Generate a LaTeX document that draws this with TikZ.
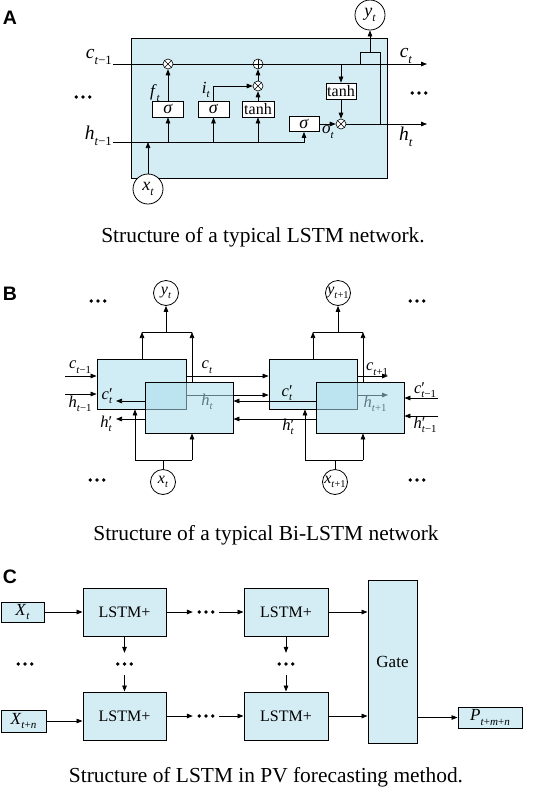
\documentclass[tikz,border=0pt]{standalone}
\usepackage{fontspec}
\setmainfont{Liberation Serif}
\newfontfamily\headfont{Liberation Sans}
\usetikzlibrary{arrows.meta}
\definecolor{cellL}{RGB}{212,237,245}
\definecolor{cellF}{RGB}{170,220,236}
\makeatletter
\newcommand\subfnt{\fontsize{\strip@pt\dimexpr\f@size pt*65/100\relax}{0}\selectfont}
\makeatother
\newcommand\lv[2]{\textit{#1}\raisebox{-0.28em}{\subfnt\textit{#2}}}
\newcommand\lvp[2]{\textit{#1}\rlap{′}\raisebox{-0.28em}{\subfnt\textit{#2}}}
\begin{document}
\begin{tikzpicture}[x=1pt,y=-1pt,
  arr/.style={-{Triangle[length=6pt,width=4.6pt]}, line width=0.75pt},
  ln/.style={line width=0.75pt},
  acell/.style={draw, line width=0.9pt, fill=cellL, inner sep=0pt},
  bcell/.style={draw, line width=0.9pt, fill=cellF, fill opacity=0.55, text opacity=1, inner sep=0pt, minimum width=88pt, minimum height=50pt},
  ccell/.style={draw, line width=1pt, fill=cellL, inner sep=0pt, font=\fontsize{16}{16}\selectfont},
  gbox/.style={draw, line width=0.8pt, fill=white, inner sep=0pt, minimum height=16pt, font=\fontsize{16}{16}\selectfont},
  sig/.style={gbox, font=\fontsize{18}{18}\selectfont},
  opx/.style={circle, draw, line width=0.6pt, fill=white, minimum size=10pt, inner sep=0pt,
    path picture={\draw[line width=0.5pt] (path picture bounding box.north west) -- (path picture bounding box.south east) (path picture bounding box.north east) -- (path picture bounding box.south west);}},
  opp/.style={circle, draw, line width=0.6pt, fill=white, minimum size=10pt, inner sep=0pt,
    path picture={\draw[line width=0.5pt] (path picture bounding box.north) -- (path picture bounding box.south) (path picture bounding box.east) -- (path picture bounding box.west);}},
  circA/.style={circle, draw, line width=0.8pt, fill=white, minimum size=30pt, inner sep=0pt, font=\fontsize{18}{18}\selectfont},
  circB/.style={circle, draw, line width=0.8pt, fill=white, minimum size=25pt, inner sep=0pt, font=\fontsize{16}{16}\selectfont},
  labA/.style={inner sep=0pt, font=\fontsize{19.5}{19.5}\selectfont},
  labS/.style={inner sep=0pt, font=\fontsize{17}{17}\selectfont},
  labB/.style={inner sep=0pt, font=\fontsize{16.5}{16.5}\selectfont},
  dotsn/.style={minimum width=20pt, minimum height=6pt, inner sep=0pt,
    path picture={\fill (path picture bounding box.center) circle (1.9pt);
      \fill ([xshift=6.8pt]path picture bounding box.center) circle (1.9pt);
      \fill ([xshift=-6.8pt]path picture bounding box.center) circle (1.9pt);}},
  head/.style={inner sep=0pt, font=\headfont\bfseries\fontsize{19.5}{19.5}\selectfont},
  capt/.style={inner sep=0pt, font=\fontsize{21.4}{21.4}\selectfont}
]
\useasboundingbox (0,0) rectangle (533,793);

%%%%%%%%%%%%%%%% Part A
\node[head] (hA) at (10,18) {A};
\node[acell, minimum width=256pt, minimum height=140pt] (Abox) at (259,108) {};
\node[opx] (m1) at (168,64) {};
\node[opp] (ad) at (258,64) {};
\node[opx] (m2) at (258,86) {};
\node[opx] (m3) at (341,124) {};
\node[sig, minimum width=31pt] (s1) at (168,109) {\textit{σ}};
\node[sig, minimum width=31pt] (s2) at (213.5,109) {\textit{σ}};
\node[gbox, minimum width=32pt] (t1) at (258,109) {tanh};
\node[sig, minimum width=30pt, minimum height=15pt] (s3) at (304,124) {\textit{σ}};
\node[gbox, minimum width=30pt] (t2) at (341,91) {tanh};
\node[circA] (yA) at (370,15) {\lv{y}{t}};
\node[circA] (xA) at (148,189) {\lv{x}{t}};
\coordinate (Acin) at (113,64);
\coordinate (Acout) at (427,64);
\coordinate (Ahin) at (113,142);
\coordinate (Ahout) at (427,124);
\coordinate (Aj1) at (360,64);
\coordinate (Ajl) at (360,52);
\coordinate (Ajr) at (380,52);
\coordinate (Aj2) at (380,124);
\draw[arr] (Acin) -- (m1) -- (ad) -- (Acout);
\draw[arr] (Ahin) -| (s3);
\draw[arr] (s1 |- Ahin) -- (s1);
\draw[arr] (s2 |- Ahin) -- (s2);
\draw[arr] (t1 |- Ahin) -- (t1);
\draw[arr] (xA) -- (xA |- Ahin);
\draw[arr] (s1) -- (m1);
\draw[arr] (s2) |- (m2);
\draw[arr] (t1) -- (m2);
\draw[arr] (m2) -- (ad);
\draw[arr] (t2 |- Acin) -- (t2);
\draw[arr] (t2) -- (m3);
\draw[arr] (s3) -- (m3);
\draw[arr] (m3) -- (Ahout);
\draw[ln] (Aj1) -- (Ajl) -- (Ajr) -- (Aj2);
\draw[arr] (yA |- Ajl) -- (yA);
\node[labA, anchor=east] (lc1) at (112,57) {\lv{c}{t\textup{−1}}};
\node[labA, anchor=east] (lh1) at (112,136) {\lv{h}{t\textup{−1}}};
\node[labA] (lct) at (406,56) {\lv{c}{t}};
\node[labA] (lht) at (406,137) {\lv{h}{t}};
\node[labS] (lft) at (155,93) {\lv{f}{t}};
\node[labS] (lit) at (206,90) {\lv{i}{t}};
\node[labS] (lot) at (328,132) {\lv{o}{t}};
\node[dotsn] (dA1) at (83,97) {};
\node[dotsn] (dA2) at (419,93) {};
\node[capt] (capA) at (263,237) {Structure of a typical LSTM network.};

%%%%%%%%%%%%%%%% Part B
\node[head] (hB) at (10,294) {B};
\node[bcell, minimum width=89pt] (b1) at (141.5,384) {};
\node[bcell] (b3) at (313,384) {};
\coordinate (Bh) at (0,395);
\coordinate (Bhout) at (388,395);
\draw[arr] (b1.east |- Bh) -- (b3.west |- Bh);
\draw[arr] (b3.east |- Bh) -- (Bhout);
\node[labB] (lhtB) at (207,402) {\lv{h}{t}};
\node[labB] (lht1B) at (375,404) {\lv{h}{t\textup{+1}}};
\node[bcell, minimum height=51pt] (b2) at (189,407.5) {};
\node[bcell, minimum height=51pt] (b4) at (360,407.5) {};
\node[circB] (yB1) at (166,293) {\lv{y}{t}};
\node[circB] (yB2) at (338,293) {\lv{y}{t\textup{+1}}};
\node[circB] (xB1) at (163,482) {\lv{x}{t}};
\node[circB] (xB2) at (335,482) {\lv{x}{t\textup{+1}}};
\coordinate (Bcin) at (65,376);
\coordinate (Bhin) at (65,394);
\coordinate (Bcpo) at (116,401);
\coordinate (Bhpo) at (116,419);
\coordinate (Bc) at (0,376);
\coordinate (Bcp) at (0,401);
\coordinate (Bhp) at (0,419);
\coordinate (Bcout) at (388,376);
\coordinate (Bcpin) at (438,398);
\coordinate (Bhpin) at (438,416);
\draw[arr] (Bcin) -- (Bcin -| b1.west);
\draw[arr] (Bhin) -- (Bhin -| b1.west);
\draw[arr] (Bcpo -| b2.west) -- (Bcpo);
\draw[arr] (Bhpo -| b2.west) -- (Bhpo);
\draw[arr] (b1.east |- Bc) -- (b3.west |- Bc);
\draw[arr] (b4.west |- Bcp) -- (b2.east |- Bcp);
\draw[arr] (b4.west |- Bhp) -- (b2.east |- Bhp);
\draw[arr] (b3.east |- Bc) -- (Bcout);
\draw[arr] (Bcpin) -- (Bcpin -| b4.east);
\draw[arr] (Bhpin) -- (Bhpin -| b4.east);
% tops
\coordinate (Bt1) at (142,332);
\coordinate (Bt2) at (192,332);
\coordinate (Bt3) at (313,332);
\coordinate (Bt4) at (363,332);
\draw[arr] (Bt1 |- b1.north) -- (Bt1);
\draw[arr] (Bt2 |- b2.north) -- (Bt2);
\draw[ln] (Bt1) -- (Bt2);
\draw[arr] (yB1 |- Bt1) -- (yB1);
\draw[arr] (Bt3 |- b3.north) -- (Bt3);
\draw[arr] (Bt4 |- b4.north) -- (Bt4);
\draw[ln] (Bt3) -- (Bt4);
\draw[arr] (yB2 |- Bt3) -- (yB2);
% bottoms
\coordinate (Bb1) at (135,460);
\coordinate (Bb2) at (192,460);
\coordinate (Bb3) at (305,460);
\coordinate (Bb4) at (363,460);
\draw[ln] (Bb1) -- (Bb2);
\draw[arr] (Bb1) -- (Bb1 |- b1.south);
\draw[arr] (Bb2) -- (Bb2 |- b2.south);
\draw[ln] (xB1) -- (xB1 |- Bb1);
\draw[ln] (Bb3) -- (Bb4);
\draw[arr] (Bb3) -- (Bb3 |- b3.south);
\draw[arr] (Bb4) -- (Bb4 |- b4.south);
\draw[ln] (xB2) -- (xB2 |- Bb3);
% labels
\node[labB] (lc1B) at (80,367) {\lv{c}{t\textup{−1}}};
\node[labB] (lh1B) at (80,404) {\lv{h}{t\textup{−1}}};
\node[labB] (lcpB) at (107,396) {\lvp{c}{t}};
\node[labB] (lhpB) at (106,424) {\lvp{h}{t}};
\node[labB] (lctB) at (207,367) {\lv{c}{t}};
\node[labB] (lcp2B) at (287,393) {\lvp{c}{t}};
\node[labB] (lhp2B) at (288,427) {\lvp{h}{t}};
\node[labB] (lct1B) at (377,369) {\lv{c}{t\textup{+1}}};
\node[labB] (lcpinB) at (425,390) {\lvp{c}{t\textup{−1}}};
\node[labB] (lhpinB) at (425,425) {\lvp{h}{t\textup{−1}}};
\node[dotsn] (dB1) at (98,301) {};
\node[dotsn] (dB2) at (417,301) {};
\node[dotsn] (dB3) at (97,480) {};
\node[dotsn] (dB4) at (417,480) {};
\node[capt] (capB) at (266,535) {Structure of a typical Bi-LSTM network};

%%%%%%%%%%%%%%%% Part C
\node[head] (hC) at (10,577) {C};
\node[ccell, minimum width=43pt, minimum height=20pt, font=\fontsize{17}{17}\selectfont] (Xt) at (22.5,612) {\lv{X}{t}};
\node[ccell, minimum width=45pt, minimum height=22pt, font=\fontsize{17}{17}\selectfont] (Xtn) at (23.5,721) {\lv{X}{t\textup{+}n}};
\node[ccell, minimum width=83pt, minimum height=48pt] (L1) at (124.5,612) {LSTM+};
\node[ccell, minimum width=84pt, minimum height=48pt] (L2) at (286,612) {LSTM+};
\node[ccell, minimum width=83pt, minimum height=48pt] (L3) at (124.5,716) {LSTM+};
\node[ccell, minimum width=84pt, minimum height=48pt] (L4) at (286,716) {LSTM+};
\node[ccell, minimum width=49pt, minimum height=163pt, font=\fontsize{17}{17}\selectfont] (G) at (392.5,661.5) {Gate};
\node[ccell, minimum width=64pt, minimum height=21pt, font=\fontsize{17}{17}\selectfont] (P) at (490,717.5) {\lv{P}{t\textup{+}m\textup{+}n}};
\node[dotsn, minimum width=26pt] (dh1) at (206,612) {};
\node[dotsn, minimum width=26pt] (dh2) at (206,716) {};
\node[dotsn, minimum height=22pt] (dv1) at (124.5,664) {};
\node[dotsn, minimum height=22pt] (dv2) at (286,664) {};
\node[dotsn] (dl) at (25,664) {};
\draw[arr] (Xt) -- (L1);
\draw[arr] (Xtn.east) -- (L3.west |- Xtn.east);
\draw[arr] (L1) -- (dh1);
\draw[arr] (dh1) -- (L2);
\draw[arr] (L3) -- (dh2);
\draw[arr] (dh2) -- (L4);
\draw[arr] (L1) -- (dv1);
\draw[arr] (dv1) -- (L3);
\draw[arr] (L2) -- (dv2);
\draw[arr] (dv2) -- (L4);
\draw[arr] (L2) -- (L2 -| G.west);
\draw[arr] (L4) -- (L4 -| G.west);
\draw[arr] (G.east |- P) -- (P);
\node[capt] (capC) at (266,777) {Structure of LSTM in PV forecasting method.};
\end{tikzpicture}
\end{document}
